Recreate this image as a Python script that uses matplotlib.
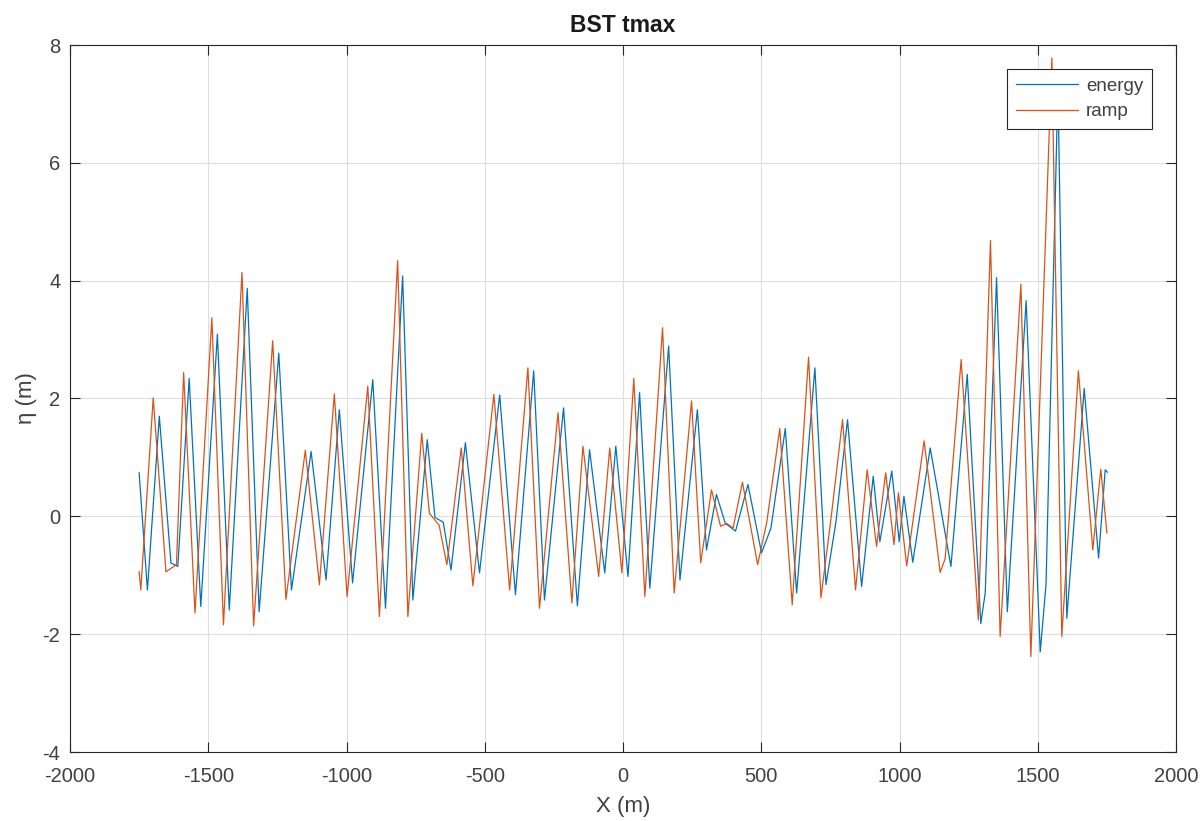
import matplotlib.pyplot as plt

# values (extrema of each wave, x in m, eta in m)
ramp_x = [-1750, -1744, -1699, -1653, -1615, -1589, -1548, -1487, -1445, -1378,
          -1336, -1267, -1219, -1149, -1098, -1044, -998, -923, -881, -815,
          -778, -728, -700, -665, -637, -585, -543, -467, -410, -344,
          -302, -235, -185, -145, -88, -48, -4, 39, 79, 143,
          185, 248, 281, 320, 353, 375, 398, 432, 487, 520,
          567, 612, 671, 716, 754, 794, 841, 883, 917, 950,
          980, 996, 1026, 1089, 1147, 1165, 1223, 1285, 1329, 1364,
          1439, 1475, 1551, 1587, 1647, 1699, 1728, 1750]
ramp_y = [-0.94, -1.25, 2.01, -0.94, -0.82, 2.44, -1.64, 3.37, -1.84, 4.14,
          -1.86, 2.98, -1.41, 1.12, -1.16, 2.08, -1.36, 2.21, -1.70, 4.34,
          -1.70, 1.41, 0.05, -0.15, -0.82, 1.16, -1.18, 2.07, -1.25, 2.52,
          -1.56, 1.76, -1.47, 1.19, -1.02, 1.16, -0.96, 2.34, -1.36, 3.20,
          -1.30, 1.96, -0.79, 0.45, -0.17, -0.12, -0.20, 0.58, -0.82, -0.10,
          1.49, -1.50, 2.70, -1.38, 0.03, 1.64, -1.25, 0.79, -0.51, 0.74,
          -0.48, 0.40, -0.84, 1.28, -0.95, -0.72, 2.66, -1.76, 4.68, -2.04,
          3.94, -2.38, 7.78, -2.04, 2.47, -0.57, 0.80, -0.28]

energy_x = [-1750, -1720, -1677, -1635, -1610, -1569, -1527, -1467, -1424, -1359,
            -1316, -1245, -1199, -1128, -1074, -1026, -978, -905, -859, -797,
            -760, -708, -680, -650, -622, -570, -519, -446, -389, -323,
            -284, -215, -165, -121, -66, -26, 18, 60, 97, 165,
            206, 269, 302, 338, 370, 407, 452, 501, 535, 587,
            628, 694, 734, 770, 812, 863, 905, 929, 972, 999,
            1016, 1048, 1111, 1186, 1245, 1294, 1310, 1351, 1390, 1458,
            1509, 1530, 1573, 1605, 1668, 1720, 1744, 1752]
energy_y = [0.74, -1.25, 1.70, -0.79, -0.85, 2.34, -1.53, 3.09, -1.59, 3.87,
            -1.62, 2.77, -1.25, 1.10, -1.08, 1.81, -1.13, 2.32, -1.56, 4.08,
            -1.42, 1.30, -0.02, -0.10, -0.91, 1.25, -0.96, 2.06, -1.33, 2.47,
            -1.42, 1.84, -1.52, 1.13, -0.96, 1.19, -1.02, 2.10, -1.22, 2.89,
            -1.08, 1.81, -0.57, 0.37, -0.12, -0.25, 0.54, -0.62, -0.20, 1.49,
            -1.30, 2.52, -1.16, -0.10, 1.64, -1.19, 0.68, -0.43, 0.77, -0.43,
            0.34, -0.78, 1.16, -0.85, 2.41, -1.82, -1.30, 4.05, -1.62, 3.66,
            -2.30, -1.15, 7.30, -1.73, 2.17, -0.71, 0.79, 0.75]

dark = '#262626'
plt.rcParams['font.family'] = ['Liberation Sans', 'DejaVu Sans']
plt.rcParams['axes.unicode_minus'] = False

fig = plt.figure(figsize=(12.02, 8.21), dpi=100)
ax = fig.add_axes([70 / 1202, 69 / 821, 1106 / 1202, 707 / 821])

ax.plot(energy_x, energy_y, color='#0072BD', lw=0.9, label='energy')
ax.plot(ramp_x, ramp_y, color='#D95319', lw=0.9, label='ramp')

ax.set_xlim(-2000, 2000)
ax.set_ylim(-4, 8)
ax.set_xticks(range(-2000, 2001, 500))
ax.set_yticks(range(-4, 9, 2))
ax.grid(True, color='#dedede', lw=0.8)
ax.set_axisbelow(True)

ax.tick_params(direction='in', top=True, right=True, length=7, width=0.8,
               colors=dark, labelsize=14.5, labelcolor='#404040')
ax.tick_params(axis='x', pad=11)
ax.tick_params(axis='y', pad=7)
for s in ax.spines.values():
    s.set_color(dark)
    s.set_linewidth(0.8)

ax.set_title('BST tmax', fontsize=16.5, fontweight='bold', color='#1a1a1a', pad=9)
ax.set_xlabel('X (m)', fontsize=16, color='#404040', labelpad=7)
ax.set_ylabel('η (m)', fontsize=16, color='#404040', labelpad=4)

leg = ax.legend(loc='upper right', fontsize=13.5, fancybox=False, framealpha=1,
                edgecolor=dark, handlelength=3.3, borderaxespad=1.3,
                borderpad=0.45, labelspacing=0.45, handletextpad=0.45)
leg.get_frame().set_linewidth(0.8)
for t in leg.get_texts():
    t.set_color('#404040')

fig.savefig('out.png', dpi=100)
